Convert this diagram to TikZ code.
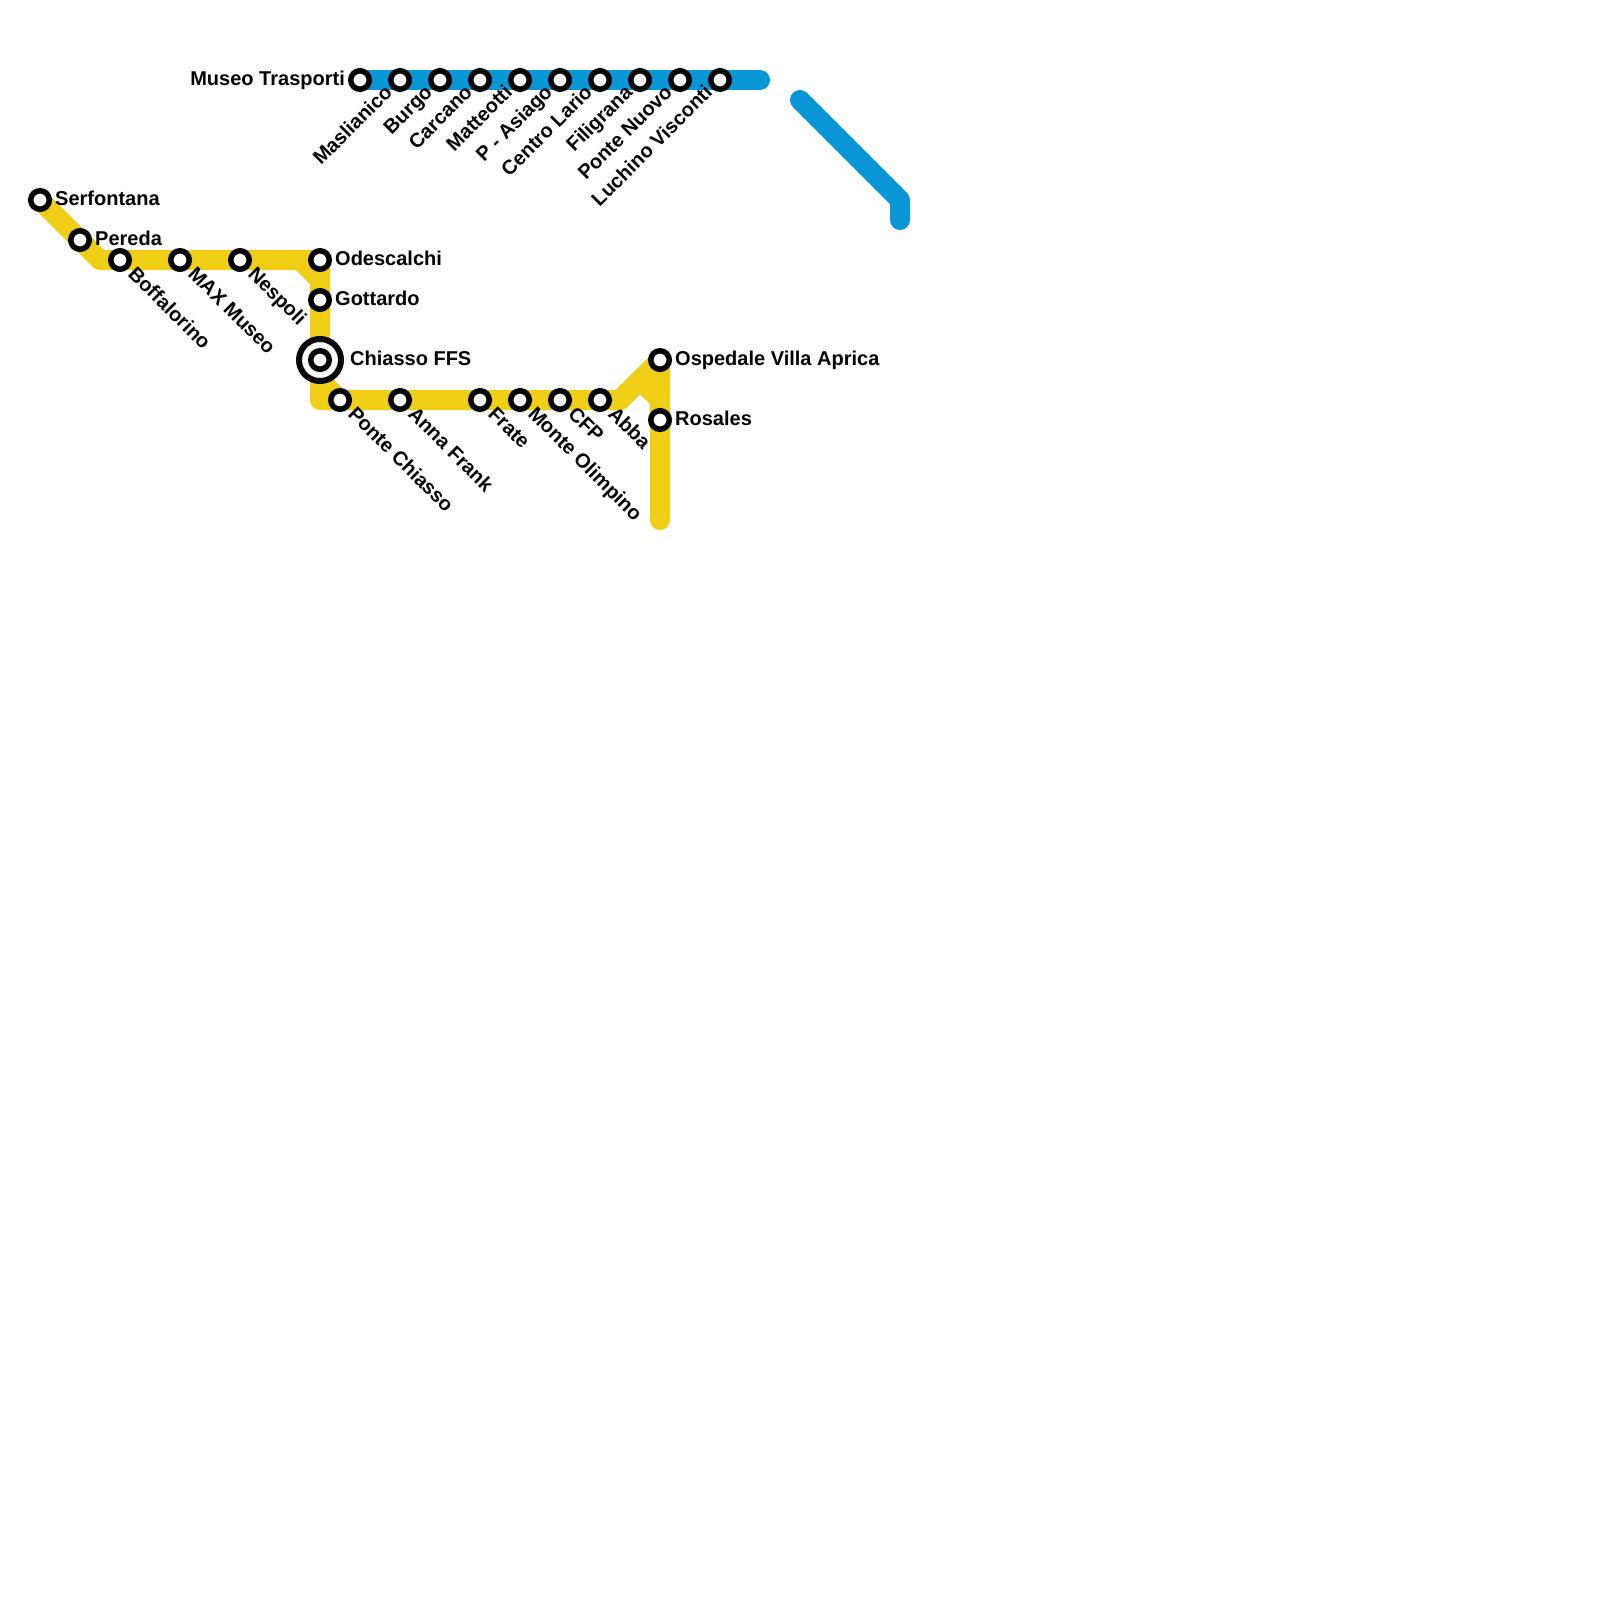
\documentclass[tikz,border=0pt]{standalone}
\usepackage{fontspec}
\setmainfont{Liberation Sans}
\usetikzlibrary{backgrounds}
\definecolor{lineyellow}{HTML}{F0CE15}
\definecolor{lineblue}{HTML}{0896D7}
\tikzstyle{station} = [circle, draw=black, line width=5.5pt, fill=white, minimum size=18.5pt, inner sep=0pt]
\tikzstyle{hub} = [circle, draw=black, line width=6pt, fill=white, minimum size=42pt, inner sep=0pt]
\tikzstyle{stationname} = [font=\bfseries\fontsize{20pt}{20pt}\selectfont, inner sep=0pt, text=black]
\tikzstyle{rightname} = [stationname, anchor=base west, xshift=15pt, yshift=-5.5pt]
\tikzstyle{leftname} = [stationname, anchor=base east, xshift=-15pt, yshift=-5.5pt]
\tikzstyle{downname} = [stationname, anchor=base west, xshift=7pt, yshift=-15pt, rotate=-45]
\tikzstyle{upname} = [stationname, anchor=base east, xshift=-6.5pt, yshift=-13.5pt, rotate=45]
\tikzstyle{yellowline} = [line width=20pt, draw=lineyellow, line join=round, line cap=round]
\tikzstyle{blueline} = [line width=20pt, draw=lineblue, line join=round, line cap=round]

\begin{document}
\begin{tikzpicture}[x=1pt, y=-1pt]
    \useasboundingbox (0,0) rectangle (1600,1600);

    % blue line
    \node (trasporti) [station] at (360,80) {};
    \node (maslianico) [station] at (400,80) {};
    \node (burgo) [station] at (440,80) {};
    \node (carcano) [station] at (480,80) {};
    \node (matteotti) [station] at (520,80) {};
    \node (asiago) [station] at (560,80) {};
    \node (lario) [station] at (600,80) {};
    \node (filigrana) [station] at (640,80) {};
    \node (nuovo) [station] at (680,80) {};
    \node (visconti) [station] at (720,80) {};
    \coordinate (blueend) at (760,80);
    \coordinate (bluestart) at (800,100);
    \coordinate (bluebend) at (900,200);
    \coordinate (bluestub) at (900,220);

    % yellow line
    \node (serfontana) [station] at (40,200) {};
    \node (pereda) [station] at (80,240) {};
    \node (boffalorino) [station] at (120,260) {};
    \node (maxmuseo) [station] at (180,260) {};
    \node (nespoli) [station] at (240,260) {};
    \node (odescalchi) [station] at (320,260) {};
    \node (gottardo) [station] at (320,300) {};
    \node (chiasso) [hub] at (320,360) {};
    \node (chiassoin) [station] at (320,360) {};
    \node (pontechiasso) [station] at (340,400) {};
    \node (annafrank) [station] at (400,400) {};
    \node (frate) [station] at (480,400) {};
    \node (olimpino) [station] at (520,400) {};
    \node (cfp) [station] at (560,400) {};
    \node (abba) [station] at (600,400) {};
    \node (ospedale) [station] at (660,360) {};
    \node (rosales) [station] at (660,420) {};
    \coordinate (bendtop) at (100,260);
    \coordinate (chamfera) at (300,260);
    \coordinate (chamferb) at (320,280);
    \coordinate (chamferc) at (320,380);
    \coordinate (bendlow) at (320,400);
    \coordinate (bendup) at (620,400);
    \coordinate (notch) at (640,380);
    \coordinate (notchend) at (660,400);
    \coordinate (yellowend) at (660,520);

    \begin{scope}[on background layer]
        \draw [blueline] (trasporti.center) -- (maslianico.center) -- (burgo.center) -- (carcano.center) -- (matteotti.center) -- (asiago.center) -- (lario.center) -- (filigrana.center) -- (nuovo.center) -- (visconti.center) -- (blueend);
        \draw [blueline] (bluestart) -- (bluebend) -- (bluestub);
        \draw [yellowline] (serfontana.center) -- (pereda.center) -- (bendtop) -- (boffalorino.center) -- (maxmuseo.center) -- (nespoli.center) -- (odescalchi.center) -- (gottardo.center) -- (chiasso.center) -- (bendlow) -- (pontechiasso.center) -- (annafrank.center) -- (frate.center) -- (olimpino.center) -- (cfp.center) -- (abba.center) -- (bendup) -- (ospedale.center) -- (rosales.center) -- (yellowend);
        \draw [yellowline] (chamfera) -- (chamferb);
        \draw [yellowline] (chamferc) -- (pontechiasso.center);
        \draw [yellowline] (bendup) -- (notch) -- (notchend);
    \end{scope}

    % names
    \node (n1) [leftname] at (trasporti) {Museo Trasporti};
    \node (n2) [upname] at (maslianico) {Maslianico};
    \node (n3) [upname] at (burgo) {Burgo};
    \node (n4) [upname] at (carcano) {Carcano};
    \node (n5) [upname] at (matteotti) {Matteotti};
    \node (n6) [upname] at (asiago) {P - Asiago};
    \node (n7) [upname] at (lario) {Centro Lario};
    \node (n8) [upname] at (filigrana) {Filigrana};
    \node (n9) [upname] at (nuovo) {Ponte Nuovo};
    \node (n10) [upname] at (visconti) {Luchino Visconti};
    \node (n11) [rightname] at (serfontana) {Serfontana};
    \node (n12) [rightname] at (pereda) {Pereda};
    \node (n13) [downname] at (boffalorino) {Boffalorino};
    \node (n14) [downname] at (maxmuseo) {MAX Museo};
    \node (n15) [downname] at (nespoli) {Nespoli};
    \node (n16) [rightname] at (odescalchi) {Odescalchi};
    \node (n17) [rightname] at (gottardo) {Gottardo};
    \node (n18) [rightname, xshift=15pt] at (chiasso) {Chiasso FFS};
    \node (n19) [downname] at (pontechiasso) {Ponte Chiasso};
    \node (n20) [downname] at (annafrank) {Anna Frank};
    \node (n21) [downname] at (frate) {Frate};
    \node (n22) [downname] at (olimpino) {Monte Olimpino};
    \node (n23) [downname] at (cfp) {CFP};
    \node (n24) [downname] at (abba) {Abba};
    \node (n25) [rightname] at (ospedale) {Ospedale Villa Aprica};
    \node (n26) [rightname] at (rosales) {Rosales};
\end{tikzpicture}
\end{document}
